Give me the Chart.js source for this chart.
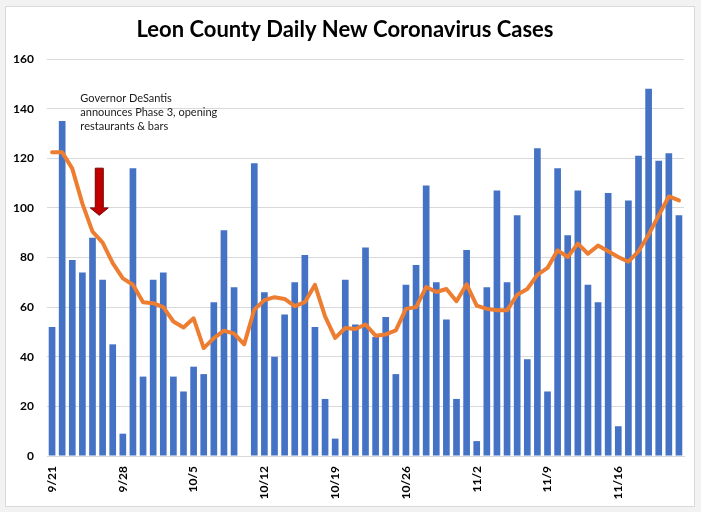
<!DOCTYPE html>
<html>
<head>
<meta charset="utf-8">
<script src="https://cdn.jsdelivr.net/npm/chart.js@4/dist/chart.umd.min.js"></script>
<style>
  body { margin: 0; background: #f2f2f2; }
  #box {
    position: absolute; left: 5px; top: 6px;
    width: 688px; height: 499px;
    border: 1px solid #d9d9d9; background: #fff;
  }
</style>
</head>
<body>
<div id="box"><canvas id="myChart" width="688" height="499"></canvas></div>
<script>
// days from 9/21 to 11/22
var dates = [
  '9/21','9/22','9/23','9/24','9/25','9/26','9/27','9/28','9/29','9/30',
  '10/1','10/2','10/3','10/4','10/5','10/6','10/7','10/8','10/9','10/10',
  '10/11','10/12','10/13','10/14','10/15','10/16','10/17','10/18','10/19','10/20',
  '10/21','10/22','10/23','10/24','10/25','10/26','10/27','10/28','10/29','10/30',
  '10/31','11/1','11/2','11/3','11/4','11/5','11/6','11/7','11/8','11/9',
  '11/10','11/11','11/12','11/13','11/14','11/15','11/16','11/17','11/18','11/19',
  '11/20','11/21','11/22'
];

// which dates get a tick label
var tickLabels = ['9/21','9/28','10/5','10/12','10/19','10/26','11/2','11/9','11/16'];

// daily new cases (bars)
var dailyCases = [
  52,135,79,74,88,71,45,9,116,32,71,74,32,26,36,33,62,91,68,0,118,
  66,40,57,70,81,52,23,7,71,53,84,48,56,33,69,77,109,70,55,23,
  83,6,68,107,70,97,39,124,26,116,89,107,69,62,106,12,103,121,148,119,122,97
];

// 7-day average (orange line)
var avgCases = [
  122.4,122.4,115.8,101.7,90.4,86,77.7,71.6,69,62,61.6,60,54.2,51.8,55.5,43.5,47.5,50.5,49.3,45,59,
  62.8,64,63.3,60.4,62,69,56.3,47.6,51.6,51.2,53,48.5,49,50.6,59.3,60,68.1,66.1,67.3,62.4,
  69.2,60.6,59.3,58.7,58.7,65,67.3,73,75.8,82.9,80.2,85.6,81.5,84.8,82.5,80.2,78.3,82.5,89.2,97,104.6,103
];

var yTicks = [0, 20, 40, 60, 80, 100, 120, 140, 160];

// annotation text and where the arrow sits (in data units)
var noteLines = ['Governor DeSantis', 'announces Phase 3, opening', 'restaurants & bars'];
var noteAt = { x: 2.8, y: 144 };
var arrowAt = { x: 4.67, top: 116, neck: 100, tip: 97 };

//draws the note and the red arrow
var notePlugin = {
  id: 'note',
  afterDatasetsDraw: function(chart) {
    var c = chart.ctx;
    var xs = chart.scales.x, ys = chart.scales.y;
    c.save();
    c.font = '11px Lato';
    c.fillStyle = '#1a1a1a';
    c.textBaseline = 'middle';
    var tx = xs.getPixelForValue(noteAt.x);
    var ty = ys.getPixelForValue(noteAt.y);
    noteLines.forEach(function(t, i) { c.fillText(t, tx, ty + i * 14); });

    var ax = xs.getPixelForValue(arrowAt.x);
    var top = ys.getPixelForValue(arrowAt.top);
    var neck = ys.getPixelForValue(arrowAt.neck);
    var tip = ys.getPixelForValue(arrowAt.tip);
    c.beginPath();
    c.moveTo(ax - 4, top);
    c.lineTo(ax + 4, top);
    c.lineTo(ax + 4, neck);
    c.lineTo(ax + 9, neck);
    c.lineTo(ax, tip);
    c.lineTo(ax - 9, neck);
    c.lineTo(ax - 4, neck);
    c.closePath();
    c.fillStyle = '#c00000';
    c.fill();
    c.strokeStyle = '#7a0000';
    c.lineWidth = 1;
    c.stroke();
    c.restore();
  }
};

var ctx = document.getElementById('myChart').getContext('2d');

var myChart = new Chart(ctx, {
  type: 'bar',
  data: {
    labels: dates,
    datasets: [{
      type: 'line',
      label: '7-day average',
      data: avgCases,
      borderColor: '#ed7d31',
      borderWidth: 4,
      pointRadius: 0,
      tension: 0,
      borderCapStyle: 'round',
      borderJoinStyle: 'round',
      order: 0
    }, {
      label: 'Daily new cases',
      data: dailyCases,
      backgroundColor: '#4472c4',
      categoryPercentage: 1,
      barPercentage: 0.66,
      order: 1
    }]
  },
  options: {
    responsive: false,
    animation: false,
    layout: { padding: { left: 0, right: 10, top: 0, bottom: 0 } },
    plugins: {
      legend: { display: false },
      tooltip: { enabled: false },
      title: {
        display: true,
        text: 'Leon County Daily New Coronavirus Cases',
        color: '#000',
        font: { family: 'Lato', size: 22, weight: 'bold' },
        padding: { top: 10, bottom: 15.6 }
      }
    },
    scales: {
      x: {
        grid: { display: false, drawTicks: false },
        border: { color: '#d9d9d9' },
        afterFit: function(s) {
          s.height = 50;
          s.paddingLeft = 0;
          s.paddingRight = 0;
        },
        ticks: {
          autoSkip: false,
          minRotation: 90,
          maxRotation: 90,
          padding: 10,
          color: '#000',
          font: { family: 'Lato', size: 12, weight: 'bold' },
          callback: function(v, i) {
            return tickLabels.indexOf(dates[i]) >= 0 ? dates[i] : '';
          }
        }
      },
      y: {
        min: 0,
        max: 160,
        afterFit: function(s) { s.width = 41; },
        afterBuildTicks: function(s) {
          s.ticks = yTicks.map(function(v) { return { value: v }; });
        },
        grid: { color: '#d9d9d9', drawTicks: false },
        border: { display: false },
        ticks: {
          padding: 13,
          color: '#000',
          font: { family: 'Lato', size: 12, weight: 'bold' }
        }
      }
    }
  },
  plugins: [notePlugin]
});
</script>
</body>
</html>
